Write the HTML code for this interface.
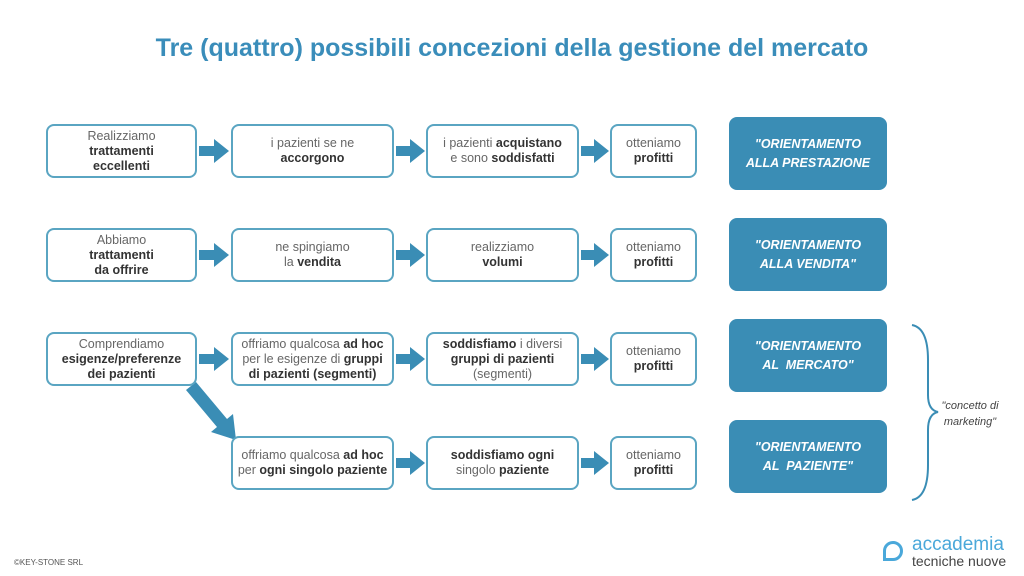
<!DOCTYPE html>
<html><head><meta charset="utf-8"><style>
body{margin:0;width:1024px;height:576px;background:#fff;position:relative;overflow:hidden;font-family:"Liberation Sans",sans-serif;}
.t{position:absolute;left:0;width:1024px;top:34px;text-align:center;font-size:25px;font-weight:bold;color:#3a8dba;}
.b{position:absolute;border:2px solid #5aa5c2;border-radius:8px;box-sizing:border-box;display:flex;align-items:center;justify-content:center;text-align:center;font-size:12.5px;line-height:15px;color:#666;background:#fff;}
.b b{color:#333;}
.d{position:absolute;left:729px;width:158px;height:73px;background:#3a8db5;border-radius:8px;color:#fff;font-weight:bold;font-style:italic;font-size:12.5px;line-height:19px;display:flex;align-items:center;justify-content:center;text-align:center;}
.f{position:absolute;font-size:8px;color:#555;}
</style></head><body>
<div class="t">Tre (quattro) possibili concezioni della gestione del mercato</div>
<svg width="1024" height="576" style="position:absolute;left:0;top:0">
<g fill="#3a8db5">
<polygon points="199,146 214,146 214,139 229,151 214,163 214,156 199,156"/>
<polygon points="396,146 410,146 410,139 425,151 410,163 410,156 396,156"/>
<polygon points="581,146 594,146 594,139 609,151 594,163 594,156 581,156"/>
<polygon points="199,250 214,250 214,243 229,255 214,267 214,260 199,260"/>
<polygon points="396,250 410,250 410,243 425,255 410,267 410,260 396,260"/>
<polygon points="581,250 594,250 594,243 609,255 594,267 594,260 581,260"/>
<polygon points="199,354 214,354 214,347 229,359 214,371 214,364 199,364"/>
<polygon points="396,354 410,354 410,347 425,359 410,371 410,364 396,364"/>
<polygon points="581,354 594,354 594,347 609,359 594,371 594,364 581,364"/>
<polygon points="396,458 410,458 410,451 425,463 410,475 410,468 396,468"/>
<polygon points="581,458 594,458 594,451 609,463 594,475 594,468 581,468"/>
<polygon points="186,390 196,382 227,419 233,414 236,440 211,432 217,427"/>
</g>
<path d="M912,325 Q928,328 928,360 L928,395 Q928,410 938,412 Q928,414 928,430 L928,465 Q928,497 912,500" fill="none" stroke="#3a8db5" stroke-width="2"/>
</svg>
<div class="b" style="left:46px;top:124px;width:151px;height:54px"><div>Realizziamo<br><b>trattamenti<br>eccellenti</b></div></div>
<div class="b" style="left:231px;top:124px;width:163px;height:54px"><div>i pazienti se ne<br><b>accorgono</b></div></div>
<div class="b" style="left:426px;top:124px;width:153px;height:54px"><div>i pazienti <b>acquistano</b><br>e sono <b>soddisfatti</b></div></div>
<div class="b" style="left:610px;top:124px;width:87px;height:54px"><div>otteniamo<br><b>profitti</b></div></div>
<div class="d" style="top:117px">"ORIENTAMENTO<br>ALLA PRESTAZIONE</div>
<div class="b" style="left:46px;top:228px;width:151px;height:54px"><div>Abbiamo<br><b>trattamenti<br>da offrire</b></div></div>
<div class="b" style="left:231px;top:228px;width:163px;height:54px"><div>ne spingiamo<br>la <b>vendita</b></div></div>
<div class="b" style="left:426px;top:228px;width:153px;height:54px"><div>realizziamo<br><b>volumi</b></div></div>
<div class="b" style="left:610px;top:228px;width:87px;height:54px"><div>otteniamo<br><b>profitti</b></div></div>
<div class="d" style="top:218px">"ORIENTAMENTO<br>ALLA VENDITA"</div>
<div class="b" style="left:46px;top:332px;width:151px;height:54px"><div>Comprendiamo<br><b>esigenze/preferenze<br>dei pazienti</b></div></div>
<div class="b" style="left:231px;top:332px;width:163px;height:54px"><div>offriamo qualcosa <b>ad hoc</b><br>per le esigenze di <b>gruppi<br>di pazienti (segmenti)</b></div></div>
<div class="b" style="left:426px;top:332px;width:153px;height:54px"><div><b>soddisfiamo</b> i diversi<br><b>gruppi di pazienti</b><br>(segmenti)</div></div>
<div class="b" style="left:610px;top:332px;width:87px;height:54px"><div>otteniamo<br><b>profitti</b></div></div>
<div class="d" style="top:319px">"ORIENTAMENTO<br>AL &nbsp;MERCATO"</div>
<div class="b" style="left:231px;top:436px;width:163px;height:54px"><div>offriamo qualcosa <b>ad hoc</b><br>per <b>ogni singolo paziente</b></div></div>
<div class="b" style="left:426px;top:436px;width:153px;height:54px"><div><b>soddisfiamo ogni</b><br>singolo <b>paziente</b></div></div>
<div class="b" style="left:610px;top:436px;width:87px;height:54px"><div>otteniamo<br><b>profitti</b></div></div>
<div class="d" style="top:420px">"ORIENTAMENTO<br>AL &nbsp;PAZIENTE"</div>
<div style="position:absolute;left:935px;top:398px;width:70px;text-align:center;font-size:11px;font-style:italic;color:#444;line-height:16px">"concetto di<br>marketing"</div>
<div class="f" style="left:14px;top:558px">©KEY-STONE SRL</div>
<div style="position:absolute;left:883px;top:541px;width:20px;height:20px;border:3px solid #4aa8da;border-radius:50% 50% 50% 0;box-sizing:border-box"></div>
<div style="position:absolute;left:912px;top:535px;font-size:19px;color:#4aa8da;line-height:19px">accademia</div>
<div style="position:absolute;left:912px;top:554px;font-size:14px;color:#444;line-height:15px">tecniche nuove</div>
</body></html>
